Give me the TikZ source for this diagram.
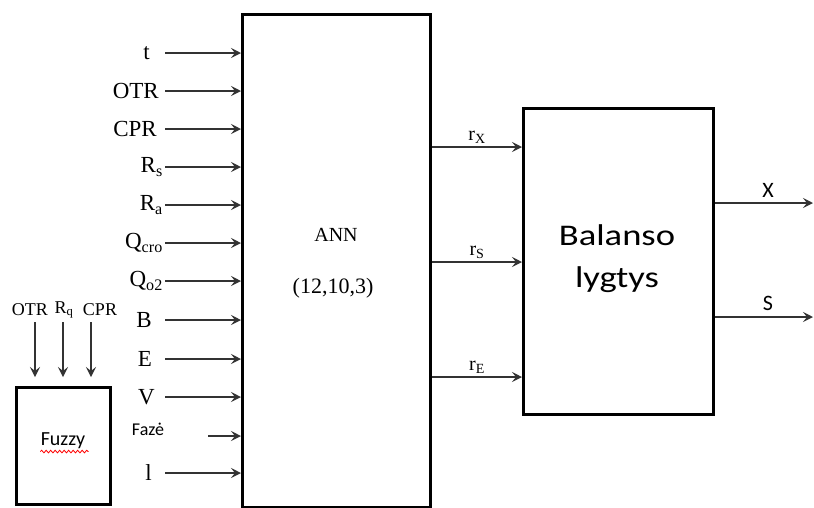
\documentclass[tikz,border=0pt]{standalone}
\usepackage{fontspec}
\setmainfont{Liberation Serif}
\newfontfamily\calfont{Carlito}
\newfontfamily\calwide[FakeStretch=1.22]{Carlito}
\usetikzlibrary{arrows.meta,decorations.pathmorphing}
\begin{document}
\begin{tikzpicture}[x=1pt,y=-1pt,
  blk/.style={draw, line width=2.6pt, inner sep=0pt},
  arr/.style={line width=1.4pt, draw=black!80, -{Stealth[length=10pt,width=10pt,inset=4pt]}},
  lbl/.style={font=\fontsize{23}{26}\selectfont, anchor=east, inner sep=0pt},
  flbl/.style={font=\fontsize{18}{20}\selectfont, inner sep=0pt},
  rlbl/.style={font=\fontsize{20}{22}\selectfont, inner sep=0pt},
  olbl/.style={font=\calfont\fontsize{22}{24}\selectfont, inner sep=0pt},
]
\useasboundingbox (0,0) rectangle (814,507);
\fill[white] (0,0) rectangle (814,507);

% ANN block
\node[blk, minimum width=188pt, minimum height=493pt, anchor=north west] (ann) at (241,13) {};
\node[font=\fontsize{20}{22}\selectfont] (annt) at (336,235) {ANN};
\node[font=\fontsize{22}{24}\selectfont] (anns) at (333,288) {(12,10,3)};

% Balance block
\node[blk, minimum width=190pt, minimum height=306pt, anchor=north west] (bal) at (522,107) {};
\node[font=\calwide\fontsize{30}{34}\selectfont] (bal1) at (617,235) {Balanso};
\node[font=\calwide\fontsize{30}{34}\selectfont] (bal2) at (617,280) {lygtys};

% Fuzzy block
\node[blk, minimum width=94pt, minimum height=117pt, anchor=north west] (fz) at (15,386) {};
\node[font=\calfont\fontsize{20}{22}\selectfont] (fzt) at (63,441) {Fuzzy};
\draw[red, line width=0.8pt, decorate, decoration={snake, amplitude=1.3pt, segment length=4.5pt}]
  (fzt.south west) ++(3,-1) coordinate (sq1) -- (sq1 -| fzt.south east);

% Fuzzy inputs
\node[flbl] (fl1) at (30,310) {OTR};
\node[flbl] (fl2) at (64,310) {R$_{\mathrm{q}}$};
\node[flbl] (fl3) at (100,310) {CPR};
\foreach \n/\x in {1/35,2/63,3/91}{
  \coordinate (fs\n) at (\x,322);
  \coordinate (fe\n) at (\x,377);
  \draw[arr] (fs\n) -- (fe\n);
}

% ANN inputs
\foreach \n/\y/\lx/\sx/\t in {
  1/53/150/165/t,
  2/91/159/165/OTR,
  3/129/157/165/CPR,
  4/167/163/165/R$_{\mathrm{s}}$,
  5/205/163/165/R$_{\mathrm{a}}$,
  6/243/163/165/Q$_{\mathrm{cro}}$,
  7/281/163/165/Q$_{\mathrm{o2}}$,
  8/320/152/165/B,
  9/359/152/165/E,
  10/397/155/165/V,
  12/473/152/165/l}{
  \node[lbl] (in\n) at (\lx,\y) {\t};
  \coordinate (s\n) at (\sx,\y);
  \draw[arr] (s\n) -- (s\n -| ann.west);
}
\node[font=\calfont\fontsize{18}{20}\selectfont, inner sep=0pt] (in11) at (148,429) {Fazė};
\coordinate (s11) at (208,436);
\draw[arr] (s11) -- (s11 -| ann.west);

% r arrows
\coordinate (hX) at (0,147);
\coordinate (hS) at (0,262);
\coordinate (hE) at (0,377);
\draw[arr] (ann.east |- hX) -- (bal.west |- hX);
\draw[arr] (ann.east |- hS) -- (bal.west |- hS);
\draw[arr] (ann.east |- hE) -- (bal.west |- hE);
\node[rlbl] (rX) at (477,137) {r$_{\mathrm{X}}$};
\node[rlbl] (rS) at (477,252) {r$_{\mathrm{S}}$};
\node[rlbl] (rE) at (477,367) {r$_{\mathrm{E}}$};

% outputs
\coordinate (oX) at (813,203);
\coordinate (oS) at (813,317);
\draw[arr] (bal.east |- oX) -- (oX);
\draw[arr] (bal.east |- oS) -- (oS);
\node[olbl] (lX) at (768,190) {X};
\node[olbl] (lS) at (768,303) {S};
\end{tikzpicture}
\end{document}
